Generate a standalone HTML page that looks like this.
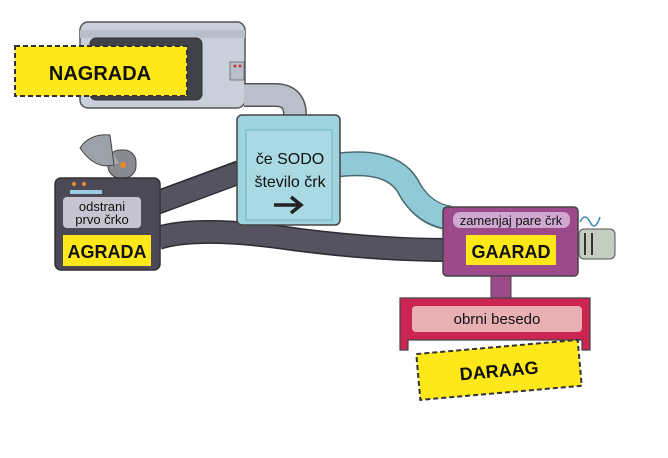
<!DOCTYPE html>
<html><head><meta charset="utf-8"><style>
body{margin:0;background:#fff;width:668px;height:453px;overflow:hidden}
text{font-family:"Liberation Sans",sans-serif}
</style></head><body>
<svg width="668" height="453" viewBox="0 0 668 453">
<!-- top machine -->
<rect x="80" y="22" width="165" height="86" rx="8" fill="#c9d0db" stroke="#555" stroke-width="1.5"/>
<rect x="80" y="30" width="165" height="8" fill="#b7bfcb"/>
<rect x="90" y="38" width="112" height="62" rx="6" fill="#3f4348" stroke="#333"/>
<rect x="230" y="62" width="14" height="18" fill="#b7bfcb" stroke="#666" stroke-width="0.8"/>
<circle cx="235" cy="66" r="1.5" fill="#c33"/><circle cx="240" cy="66" r="1.5" fill="#c33"/>
<!-- gray pipe -->
<path d="M244 95 L275 95 Q295 95 295 115 L295 118" fill="none" stroke="#555" stroke-width="24"/>
<path d="M244 95 L275 95 Q295 95 295 115 L295 119" fill="none" stroke="#b9c0cb" stroke-width="21"/>
<!-- NAGRADA -->
<rect x="15" y="46" width="172" height="50" fill="#ffe81a" stroke="#333" stroke-width="2" stroke-dasharray="5,3"/>
<text x="100" y="80" font-size="20" font-weight="bold" text-anchor="middle" fill="#111">NAGRADA</text>
<!-- pipes -->
<path d="M338 165 Q395 158 410 190 Q425 215 450 218" fill="none" stroke="#4a6a72" stroke-width="25"/>
<path d="M338 165 Q395 158 410 190 Q425 215 452 218" fill="none" stroke="#8fcad6" stroke-width="22"/>
<path d="M148 206 L240 172" fill="none" stroke="#2c2b33" stroke-width="24"/>
<path d="M148 206 L241 172" fill="none" stroke="#55535f" stroke-width="21"/>
<path d="M158 238 Q200 225 300 240 Q380 250 450 250" fill="none" stroke="#2c2b33" stroke-width="24"/>
<path d="M158 238 Q200 225 300 240 Q380 250 452 250" fill="none" stroke="#55535f" stroke-width="21"/>
<!-- blue box -->
<rect x="237" y="115" width="103" height="110" rx="5" fill="#9fd3dd" stroke="#444" stroke-width="1.5"/>
<rect x="246" y="130" width="86" height="90" fill="#a9dae3" stroke="#6aa" stroke-width="0.8"/>
<text x="290" y="164" font-size="16" text-anchor="middle" fill="#111">če SODO</text>
<text x="290" y="187" font-size="16" text-anchor="middle" fill="#111">število črk</text>
<path d="M274 205 L300 205 M291 197 L301 205 L291 213" stroke="#222" stroke-width="3.5" fill="none"/>
<!-- axe -->
<rect x="108" y="150" width="28" height="28" rx="12" fill="#888a8f" stroke="#444"/>
<path d="M115 165 L100 140" stroke="#9fa6ad" stroke-width="9"/>
<path d="M80 148 Q90 133 110 135 L114 165 Q95 170 80 148Z" fill="#9ba2aa" stroke="#444"/>
<circle cx="123" cy="165" r="3" fill="#e98a2f"/>
<!-- dark box -->
<rect x="55" y="178" width="105" height="92" rx="6" fill="#4b4956" stroke="#333" stroke-width="1.5"/>
<circle cx="74" cy="184" r="2" fill="#e98a2f"/><circle cx="84" cy="184" r="2" fill="#e98a2f"/>
<rect x="70" y="190" width="32" height="4" fill="#9cc9e3"/>
<rect x="63" y="197" width="78" height="31" rx="4" fill="#c6c4d0"/>
<text x="102" y="211" font-size="13" text-anchor="middle" fill="#111">odstrani</text>
<text x="102" y="224" font-size="13" text-anchor="middle" fill="#111">prvo črko</text>
<rect x="63" y="235" width="88" height="31" fill="#ffe81a"/>
<text x="107" y="258" font-size="18" font-weight="bold" text-anchor="middle" fill="#111">AGRADA</text>
<!-- purple box -->
<rect x="443" y="207" width="135" height="69" rx="4" fill="#9d4a8a" stroke="#444" stroke-width="1.5"/>
<rect x="453" y="212" width="117" height="16" rx="7" fill="#cfa9cf"/>
<text x="511" y="225" font-size="13" text-anchor="middle" fill="#111">zamenjaj pare črk</text>
<rect x="466" y="235" width="90" height="30" fill="#ffe81a"/>
<text x="511" y="258" font-size="18" font-weight="bold" text-anchor="middle" fill="#111">GAARAD</text>
<rect x="579" y="229" width="36" height="30" rx="5" fill="#c4cdc0" stroke="#555"/>
<path d="M585 233 v22 M592 233 v22" stroke="#333" stroke-width="2"/>
<path d="M580 222 q5 -10 10 0 q5 10 10 -5" fill="none" stroke="#3a8ab5" stroke-width="1.5"/>
<!-- stem + table -->
<rect x="491" y="276" width="20" height="22" fill="#9d4a8a" stroke="#444"/>
<path d="M400 298 L590 298 L590 350 L582 350 L582 340 L408 340 L408 350 L400 350Z" fill="#cc2453" stroke="#444" stroke-width="1.2"/>
<rect x="412" y="306" width="170" height="26" rx="4" fill="#e8b0b3"/>
<text x="497" y="324" font-size="15" text-anchor="middle" fill="#111">obrni besedo</text>
<!-- DARAAG -->
<g transform="rotate(-5 498 370)">
<rect x="418" y="347" width="162" height="46" fill="#ffe81a" stroke="#333" stroke-width="2" stroke-dasharray="5,3"/>
<text x="499" y="377" font-size="18" font-weight="bold" text-anchor="middle" fill="#111">DARAAG</text>
</g>
</svg>
</body></html>
